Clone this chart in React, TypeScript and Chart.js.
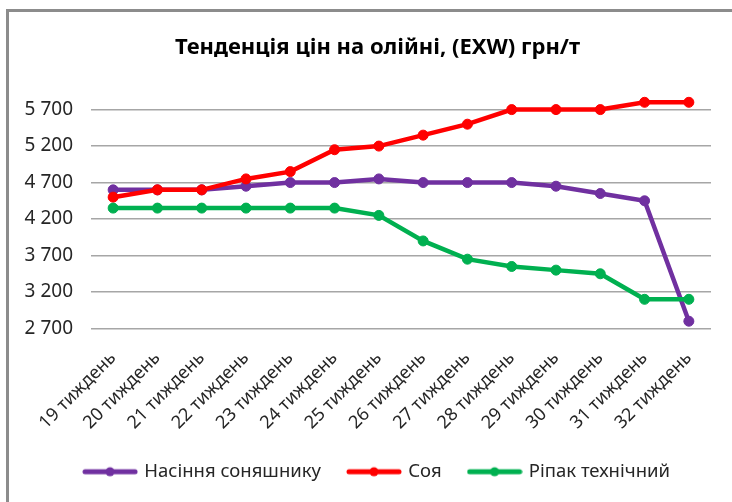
import React, { useEffect, useRef } from "react";
import { Chart, registerables } from "chart.js";

Chart.register(...registerables);

const categories = [
  "19 тиждень", "20 тиждень", "21 тиждень", "22 тиждень", "23 тиждень", "24 тиждень", "25 тиждень",
  "26 тиждень", "27 тиждень", "28 тиждень", "29 тиждень", "30 тиждень", "31 тиждень", "32 тиждень",
];
const sunflower = [4600, 4600, 4600, 4650, 4700, 4700, 4750, 4700, 4700, 4700, 4650, 4550, 4450, 2800];
const soy = [4500, 4600, 4600, 4750, 4850, 5150, 5200, 5350, 5500, 5700, 5700, 5700, 5800, 5800];
const rapeseed = [4350, 4350, 4350, 4350, 4350, 4350, 4250, 3900, 3650, 3550, 3500, 3450, 3100, 3100];
const seriesNames = ["Насіння соняшнику", "Соя", "Ріпак технічний"];
const seriesColors = ["#7030A0", "#FF0000", "#00B050"];
const yTicks = [2700, 3200, 3700, 4200, 4700, 5200, 5700];
const yMin = 2700;
const yMax = 5900;
const titleText = "Тенденція цін на олійні, (EXW) грн/т";

const FONT = "'Noto Sans', sans-serif";

function legendMarker(color: string): HTMLCanvasElement {
  const c = document.createElement("canvas");
  c.width = 56;
  c.height = 12;
  const ctx = c.getContext("2d")!;
  ctx.strokeStyle = color;
  ctx.lineWidth = 5;
  ctx.lineCap = "round";
  ctx.beginPath();
  ctx.moveTo(3, 6);
  ctx.lineTo(53, 6);
  ctx.stroke();
  ctx.fillStyle = color;
  ctx.beginPath();
  ctx.arc(28, 6, 4.5, 0, Math.PI * 2);
  ctx.fill();
  return c;
}

function fmt(v: number): string {
  return String(v).replace(/\B(?=(\d{3})+(?!\d))/g, " ");
}

const framePlugin = {
  id: "frame",
  beforeDraw(chart: any) {
    const ctx = chart.ctx;
    ctx.save();
    ctx.fillStyle = "#ffffff";
    ctx.fillRect(0, 0, chart.width, chart.height);
    ctx.strokeStyle = "#8c8c8c";
    ctx.lineWidth = 3;
    ctx.strokeRect(7.5, 10.5, 900, 900);
    ctx.restore();
  },
};

export default function App() {
  const ref = useRef<HTMLCanvasElement | null>(null);

  useEffect(() => {
    if (!ref.current) return;
    const markers = seriesColors.map(legendMarker);
    const data = [sunflower, soy, rapeseed];
    const chart = new Chart(ref.current, {
      type: "line",
      data: {
        labels: categories,
        datasets: data.map((d, i) => ({
          label: seriesNames[i],
          data: d,
          borderColor: seriesColors[i],
          backgroundColor: seriesColors[i],
          pointBackgroundColor: seriesColors[i],
          pointBorderColor: seriesColors[i],
          borderWidth: 4.5,
          pointRadius: 5,
          pointBorderWidth: 1,
          pointHoverRadius: 5,
          tension: 0,
          fill: false,
          order: 2 - i,
          yAxisID: "y",
        })),
      },
      options: {
        responsive: false,
        animation: false,
        devicePixelRatio: 1,
        layout: { padding: { left: 23, right: 0, top: 0, bottom: 11 } },
        plugins: {
          tooltip: { enabled: false },
          title: {
            display: true,
            text: titleText,
            color: "#000000",
            font: { family: FONT, size: 22, weight: "bold", lineHeight: 1.2 },
            padding: { top: 34.8, bottom: 33.8 },
          },
          legend: {
            display: true,
            position: "bottom",
            labels: {
              usePointStyle: true,
              pointStyleWidth: 50,
              padding: 28,
              color: "#262626",
              font: { family: FONT, size: 18.5 },
              sort: (a: any, b: any) => a.datasetIndex - b.datasetIndex,
              generateLabels: (chart: any) => {
                const items = Chart.defaults.plugins.legend.labels.generateLabels(chart);
                items.forEach((it: any) => {
                  it.pointStyle = markers[it.datasetIndex];
                });
                return items;
              },
            },
          },
        },
        scales: {
          x: {
            type: "category",
            offset: true,
            grid: { display: false, drawTicks: false, offset: true },
            border: { display: false },
            ticks: {
              autoSkip: false,
              maxRotation: 45,
              minRotation: 45,
              padding: 19,
              color: "#262626",
              font: { family: FONT, size: 18 },
            },
            afterFit: (s: any) => {
              s.height = 106;
            },
          },
          y: {
            type: "linear",
            position: "left",
            min: yMin,
            max: yMax,
            grid: { color: "#a6a6a6", lineWidth: 1.5, drawTicks: false },
            border: { display: false },
            afterBuildTicks: (s: any) => {
              s.ticks = yTicks.map((v) => ({ value: v }));
            },
            ticks: {
              padding: 18,
              color: "#262626",
              font: { family: FONT, size: 19 },
              callback: (v: any) => fmt(Number(v)),
            },
            afterFit: (s: any) => {
              s.width = 68;
            },
          },
          yRight: {
            type: "linear",
            position: "right",
            min: yMin,
            max: yMax,
            grid: { display: false, drawTicks: false },
            border: { display: false },
            ticks: { display: false },
            afterFit: (s: any) => {
              s.width = 21;
            },
          },
        },
      },
      plugins: [framePlugin],
    } as any);
    return () => chart.destroy();
  }, []);

  return (
    <div style={{ position: "absolute", left: 0, top: 0, width: 732, height: 502 }}>
      <canvas ref={ref} width={732} height={502} style={{ display: "block" }} />
    </div>
  );
}
